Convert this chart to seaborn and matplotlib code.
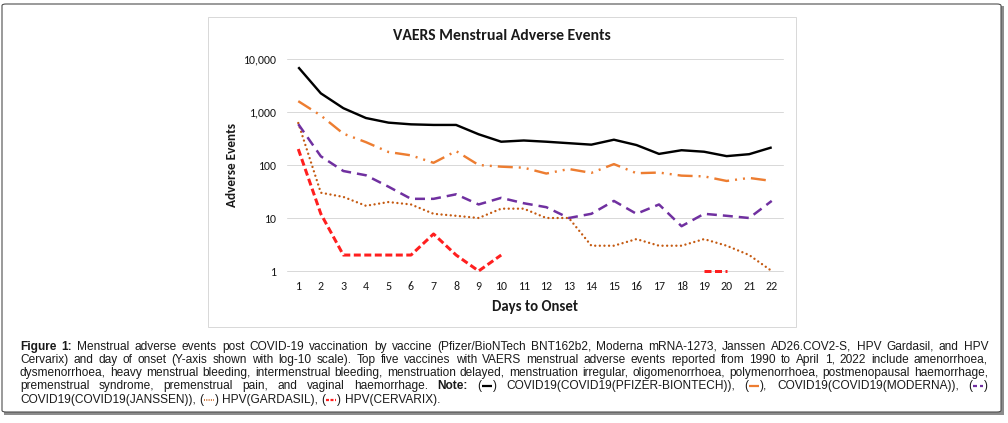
import numpy as np
import pandas as pd
import seaborn as sns
from matplotlib import pyplot as plt
from matplotlib import font_manager
from matplotlib.lines import Line2D
from matplotlib.patches import Rectangle, FancyBboxPatch

# values (days 1..22, log scale)
days = list(range(1, 23))
pfizer = [7000, 2250, 1180, 770, 630, 585, 570, 570, 380, 275, 290,
          275, 258, 242, 300, 238, 162, 190, 178, 147, 160, 215]
moderna = [1600, 860, 390, 270, 176, 152, 110, 183, 100, 93, 89,
           69, 84, 71, 104, 70, 72, 63, 61, 50, 57, 50]
janssen = [590, 146, 77, 64, 39, 23, 23, 28, 18, 24, 19,
           16, 10, 12, 21, 12, 18, 7, 12, 11, 10, 21]
gardasil = [620, 30, 25, 17, 20, 18, 12, 11, 10, 15, 15,
            10, 10, 3, 3, 4, 3, 3, 4, 3, 2, 1]
cervarix = [200, 12, 2, 2, 2, 2, 5, 2, 1, 2, np.nan,
            np.nan, np.nan, np.nan, np.nan, np.nan, np.nan, np.nan, 1, 1, np.nan, np.nan]

y_ticks = [1, 10, 100, 1000, 10000]
y_tick_labels = ['1', '10', '100', '1,000', '10,000']

W, H = 1008, 423

names = {f.name for f in font_manager.fontManager.ttflist}


def pick(prefs):
    for p in prefs:
        if p in names:
            return p
    return 'DejaVu Sans'


chart_font = pick(['Carlito', 'Calibri', 'Lato'])
cap_font = pick(['Liberation Sans', 'Arimo', 'DejaVu Sans'])

sns.set_theme(style='white')
plt.rcParams['font.family'] = [chart_font, 'DejaVu Sans']
plt.rcParams['lines.scale_dashes'] = False

fig = plt.figure(figsize=(W / 100, H / 100), dpi=100)


def fx(x):
    return x / W


def fy(y):
    return 1 - y / H


PX = 0.72  # points per pixel

# outer frame with shadow
fig.patches.append(Rectangle((fx(4), fy(415)), fx(1000), 409 / H, transform=fig.transFigure,
                             facecolor='#8c8c8c', edgecolor='none', zorder=-3))
fig.patches.append(FancyBboxPatch((fx(2), fy(412)), fx(999), 408 / H, transform=fig.transFigure,
                                  boxstyle='round,pad=0,rounding_size=0.004',
                                  facecolor='white', edgecolor='#4d4d4d', lw=1.1 * PX, zorder=-2))
# chart area box
fig.patches.append(Rectangle((fx(208), fy(327)), fx(588), 310 / H, transform=fig.transFigure,
                             facecolor='white', edgecolor='#d9d9d9', lw=1.0 * PX, zorder=-1))

ax = fig.add_axes([fx(287), fy(271), fx(496), 212 / H])
ax.set_facecolor('none')

series = [
    ('COVID19(PFIZER-BIONTECH)', pfizer, '#000000', 2.4, 'solid', 'butt'),
    ('COVID19(MODERNA)', moderna, '#ed7d31', 2.4, (0, (15 * PX, 6 * PX, 2 * PX, 6 * PX, 2 * PX, 6 * PX)), 'butt'),
    ('COVID19(JANSSEN)', janssen, '#7030a0', 2.5, (0, (10 * PX, 6 * PX)), 'butt'),
    ('HPV(GARDASIL)', gardasil, '#c55a11', 2.4, (0, (0.01, 4.6 * PX)), 'round'),
    ('HPV(CERVARIX)', cervarix, '#ff1f1f', 3.0, (0, (7 * PX, 3.5 * PX)), 'butt'),
]

for z, (name, vals, color, lw, ls, cap) in enumerate(series):
    df = pd.DataFrame({'day': days, 'events': vals})
    ok = df['events'].notna()
    run = (~ok).cumsum()
    for _, seg in df[ok].groupby(run[ok]):
        sns.lineplot(data=seg, x='day', y='events', ax=ax, color=color, lw=lw * PX,
                     linestyle=ls, dash_capstyle=cap, solid_capstyle='butt',
                     estimator=None, errorbar=None, clip_on=False, zorder=10 - z)

ax.set_yscale('log')
ax.set_ylim(1, 10000)
ax.set_xlim(0.5, 22.5)
for v in y_ticks:
    ax.axhline(v, color='#d9d9d9', lw=1.0 * PX, clip_on=False, zorder=0)
ax.set_yticks(y_ticks)
ax.set_yticklabels(y_tick_labels)
ax.yaxis.set_minor_locator(plt.NullLocator())
ax.set_xticks(days)
ax.set_xticklabels([str(d) for d in days])
ax.tick_params(axis='both', length=0, labelsize=8.6, labelcolor='#1a1a1a')
ax.tick_params(axis='y', pad=11 * PX)
ax.tick_params(axis='x', pad=10 * PX)
ax.set_xlabel('')
ax.set_ylabel('')
for s in ax.spines.values():
    s.set_visible(False)

fig.text(fx(502), fy(36), 'VAERS Menstrual Adverse Events', ha='center', va='center',
         fontsize=11.3, fontweight='bold', color='#1a1a1a')
fig.text(fx(232), fy(165), 'Adverse Events', ha='center', va='center', rotation=90,
         fontsize=9.5, fontweight='bold', color='#1a1a1a')
fig.text(fx(535), fy(307), 'Days to Onset', ha='center', va='center',
         fontsize=10.6, fontweight='bold', color='#1a1a1a')

# caption, justified like the journal layout
samples = {
    'k': ('#000000', 'solid', 1.6),
    'o': ('#ed7d31', 'solid', 1.6),
    'p': ('#7030a0', (0, (4 * PX, 3 * PX)), 1.6),
    'g': ('#c55a11', (0, (1 * PX, 1.3 * PX)), 1.2),
    'r': ('#ff1f1f', (0, (3 * PX, 1.5 * PX)), 1.6),
}
SW = 12


def words(s):
    return [[('t', w, 'normal')] for w in s.split()]


cap_lines = [
    [[('t', 'Figure', 'bold')], [('t', '1:', 'bold')]] + words(
        'Menstrual adverse events post COVID-19 vaccination by vaccine (Pfizer/BioNTech BNT162b2, '
        'Moderna mRNA-1273, Janssen AD26.COV2-S, HPV Gardasil, and HPV'),
    words('Cervarix) and day of onset (Y-axis shown with log-10 scale). Top five vaccines with VAERS '
          'menstrual adverse events reported from 1990 to April 1, 2022 include amenorrhoea,'),
    words('dysmenorrhoea, heavy menstrual bleeding, intermenstrual bleeding, menstruation delayed, '
          'menstruation irregular, oligomenorrhoea, polymenorrhoea, postmenopausal haemorrhage,'),
    words('premenstrual syndrome, premenstrual pain, and vaginal haemorrhage.')
    + [[('t', 'Note:', 'bold')], [('t', '(', 'normal'), ('s', 'k'), ('t', ')', 'normal')]]
    + words('COVID19(COVID19(PFIZER-BIONTECH)),')
    + [[('t', '(', 'normal'), ('s', 'o'), ('t', '),', 'normal')]]
    + words('COVID19(COVID19(MODERNA)),')
    + [[('t', '(', 'normal'), ('s', 'p'), ('t', ')', 'normal')]],
    words('COVID19(COVID19(JANSSEN)),')
    + [[('t', '(', 'normal'), ('s', 'g'), ('t', ')', 'normal')]]
    + words('HPV(GARDASIL),')
    + [[('t', '(', 'normal'), ('s', 'r'), ('t', ')', 'normal')]]
    + words('HPV(CERVARIX).'),
]

renderer = fig.canvas.get_renderer()


def measure(s, weight, fs):
    t = fig.text(0, 0, s, fontsize=fs, family=cap_font, fontweight=weight)
    w = t.get_window_extent(renderer=renderer).width
    t.remove()
    return w


def token_width(tok, fs):
    w = 0
    for part in tok:
        w += SW if part[0] == 's' else measure(part[1], part[2], fs)
    return w


x0, x1 = 20, 988
L = x1 - x0
fs0 = 8.0
space0 = measure('a a', 'normal', fs0) - measure('aa', 'normal', fs0)
natural = []
for line in cap_lines[:4]:
    tw = sum(token_width(t, fs0) for t in line)
    natural.append(tw + space0 * (len(line) - 1))
fs = fs0 * L * 0.997 / max(natural)
fs = min(fs, 8.6)
space = measure('a a', 'normal', fs) - measure('aa', 'normal', fs)

baselines = [349.5, 362.8, 376.1, 389.4, 402.7]
for i, line in enumerate(cap_lines):
    widths = [token_width(t, fs) for t in line]
    if i < 4:
        gap = (L - sum(widths)) / (len(line) - 1)
    else:
        gap = space
    x = x0
    yb = baselines[i]
    for tok, tw in zip(line, widths):
        xx = x
        for part in tok:
            if part[0] == 's':
                color, ls, lw = samples[part[1]]
                fig.lines.append(Line2D([fx(xx + 1), fx(xx + SW - 1)], [fy(yb - 3), fy(yb - 3)],
                                        transform=fig.transFigure, color=color, linestyle=ls,
                                        lw=lw, solid_capstyle='butt', dash_capstyle='butt'))
                xx += SW
            else:
                fig.text(fx(xx), fy(yb), part[1], fontsize=fs, family=cap_font,
                         fontweight=part[2], ha='left', va='baseline', color='#1a1a1a')
                xx += measure(part[1], part[2], fs)
        x += tw + gap

fig.savefig('out.png', dpi=100)
